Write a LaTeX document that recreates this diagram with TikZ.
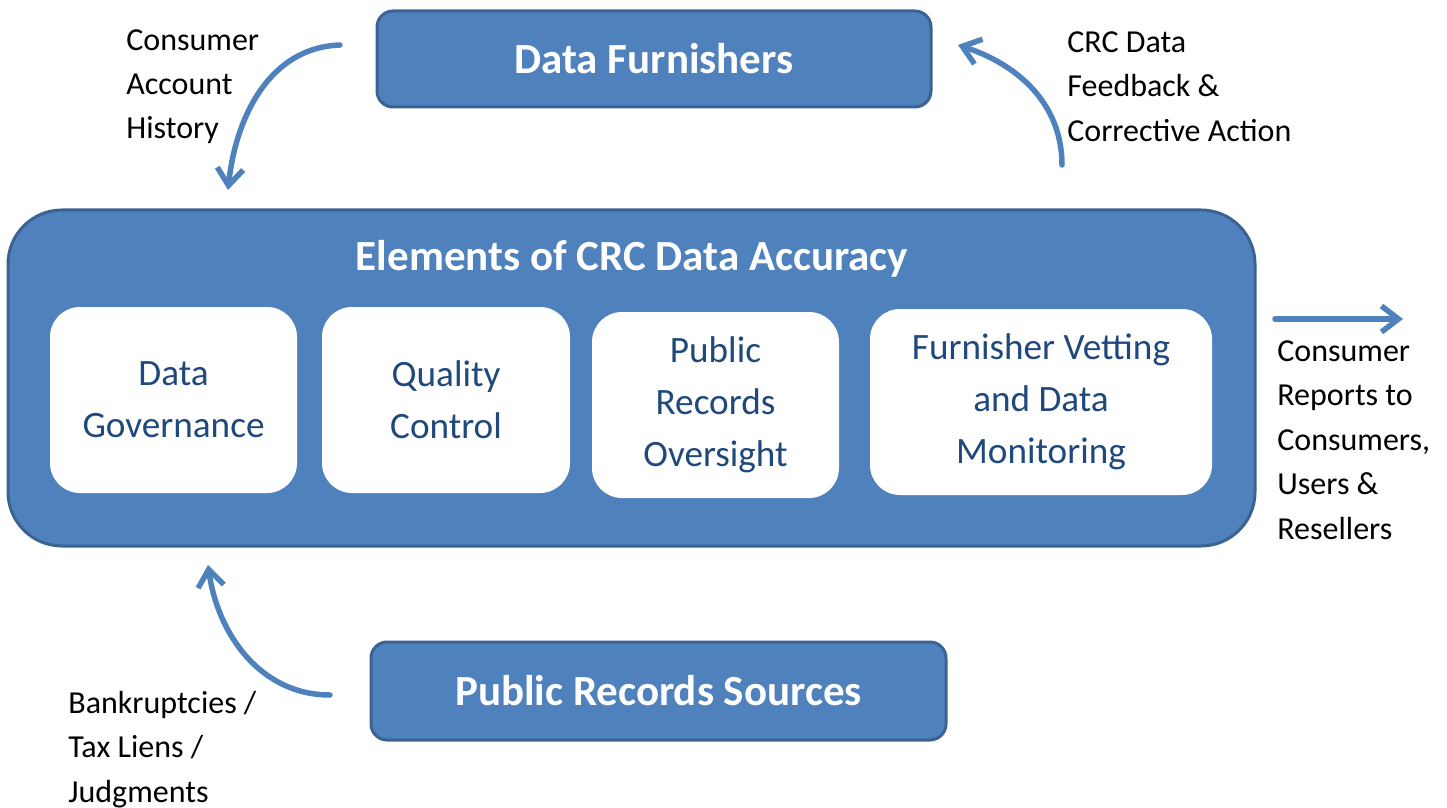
\documentclass[tikz,border=0pt]{standalone}
\usepackage{fontspec}
\setmainfont{Carlito}
\usetikzlibrary{arrows.meta, positioning}
\usepackage{xcolor}
\definecolor{crcblue}{HTML}{4F81BD}
\definecolor{crcedge}{HTML}{3A6393}
\definecolor{crctext}{HTML}{1F497D}

\begin{document}
\begin{tikzpicture}[
    x=0.5pt, y=-0.5pt,
    bluebox/.style={draw=crcedge, line width=1.5pt, fill=crcblue, rounded corners=8pt, text=white, font=\fontsize{21.5}{26}\selectfont\bfseries},
    element/.style={fill=white, rounded corners=15pt, minimum height=93pt, text=crctext, align=center, font=\fontsize{18.6}{26}\selectfont},
    note/.style={anchor=base west, align=left, inner sep=0pt, font=\fontsize{16}{22.2}\selectfont},
    flow/.style={draw=crcblue, line width=2.75pt, line cap=round, -{Straight Barb[length=8.5pt, width=13pt]}}
]
\useasboundingbox (0,0) rectangle (1447,808);

% Caixas de origem dos dados
\node[bluebox, minimum width=277pt, minimum height=48pt] (furn) at (654,59) {Data Furnishers};
\node[bluebox, minimum width=287.5pt, minimum height=49pt] (pubsrc) at (658.5,691) {Public Records Sources};

% Caixa principal com os quatro elementos
\node[bluebox, rounded corners=27pt, minimum width=623.5pt, minimum height=168pt] (crc) at (631.5,378) {};
\node[text=white, font=\fontsize{21.5}{26}\selectfont\bfseries] (title) at (632,259) {Elements of CRC Data Accuracy};
\node[element, minimum width=123.5pt] (gov) at (173.5,400) {Data\\Governance};
\node[element, minimum width=124pt] (qc) at (446,400) {Quality\\Control};
\node[element, minimum width=123.5pt] (pubrec) at (715.5,405) {Public\\Records\\Oversight};
\node[element, minimum width=171pt] (vetting) at (1041,402) {Furnisher Vetting\\and Data\\Monitoring};

% Textos das setas (ancorados na linha de base da ultima linha)
\node[note] (histtxt) at (126,139) {Consumer\\Account\\History};
\node[note] (feedtxt) at (1067,141) {CRC Data\\Feedback \&\\Corrective Action};
\node[note] (reptxt) at (1277,539) {Consumer\\Reports to\\Consumers,\\Users \&\\Resellers};
\node[note] (pubtxt) at (68,802) {Bankruptcies /\\Tax Liens /\\Judgments};

% Pontas livres das setas
\coordinate (hstart) at (340,45);
\coordinate (hend) at (228,190);
\coordinate (fstart) at (1062,165);
\coordinate (fend) at (958,45);
\coordinate (pstart) at (330,695);
\coordinate (pend) at (208,565);
\coordinate (rstart) at (1275,319);
\coordinate (rend) at (1403,319);

% Setas
\draw[flow] (hstart) to[out=182, in=84] (hend);
\draw[flow] (fstart) to[out=90, in=-18] (fend);
\draw[flow] (pstart) to[out=180, in=-82] (pend);
\draw[flow] (rstart) -- (rend);

\end{tikzpicture}
\end{document}
